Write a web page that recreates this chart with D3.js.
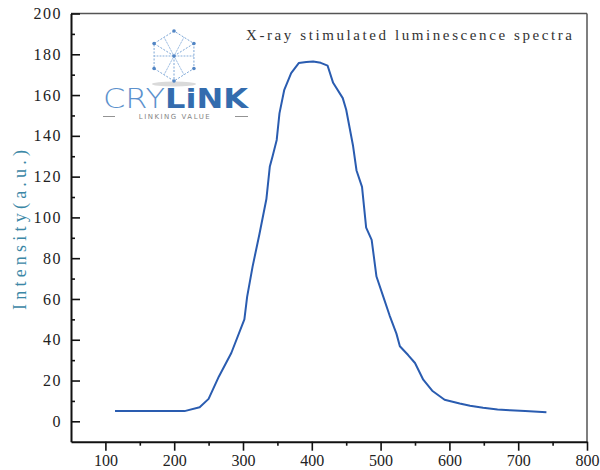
<!DOCTYPE html>
<html>
<head>
<meta charset="utf-8">
<script src="https://cdn.jsdelivr.net/npm/d3@7"></script>
<style>
  body { margin: 0; background: #fff; }
  svg { display: block; }
</style>
</head>
<body>
<div id="chart"></div>
<script>
// spectrum
const wavelength = [114, 150, 180, 215, 237, 250, 265, 283, 302, 306, 314, 324, 334, 339, 343, 349, 353, 360, 370, 381, 392, 402, 413, 423, 431, 445, 450, 460, 465, 473, 479, 487, 494, 504, 513, 523, 528, 540, 550, 562, 575, 593, 615, 630, 649, 670, 688, 710, 741];
const intensity  = [5,   5,   5,   5,   6.9, 11,  22,  33.5, 50, 61,  76,  92,  109, 125, 130, 138, 151, 162.6, 170.8, 175.7, 176.2, 176.5, 175.8, 174.4, 166, 158.5, 152.8, 135, 123, 115, 95,  89,  71,  61,  52,  43,  36.8, 32.5, 28.6, 20.4, 15, 10.6, 8.7, 7.6, 6.6, 5.8, 5.4, 5.0, 4.4];

const xTicks = [100, 200, 300, 400, 500, 600, 700, 800];
const xMinor = [150, 250, 350, 450, 550, 650, 750];
const yTicks = [0, 20, 40, 60, 80, 100, 120, 140, 160, 180, 200];
const yMinor = [10, 30, 50, 70, 90, 110, 130, 150, 170, 190];

const titleText = "X-ray stimulated luminescence spectra";
const yLabelText = "Intensity(a.u.)";

const W = 600, H = 470;
const box = {left: 71, right: 587, top: 13.5, bottom: 441.7};

const svg = d3.select("#chart").append("svg")
  .attr("width", W)
  .attr("height", H);

const x = d3.scaleLinear().domain([50, 800]).range([box.left, box.right]);
const y = d3.scaleLinear().domain([-10, 200]).range([box.bottom, box.top]);

const tickFont = "Liberation Serif, Times New Roman, serif";

// frame: top and right in grey
svg.append("line")
  .attr("x1", box.left).attr("x2", box.right)
  .attr("y1", box.top).attr("y2", box.top)
  .attr("stroke", "#555").attr("stroke-width", 1.5);
svg.append("line")
  .attr("x1", box.right).attr("x2", box.right)
  .attr("y1", box.top).attr("y2", box.bottom)
  .attr("stroke", "#555").attr("stroke-width", 1.5);

// bottom axis, ticks outward
const xAxis = svg.append("g")
  .attr("transform", "translate(0," + box.bottom + ")")
  .call(d3.axisBottom(x).tickValues(xTicks).tickSize(9).tickSizeOuter(0).tickPadding(4));
xAxis.select(".domain").attr("stroke", "#111").attr("stroke-width", 2);
xAxis.selectAll(".tick line").attr("stroke", "#111").attr("stroke-width", 1.6);
xAxis.selectAll("text")
  .attr("font-family", tickFont)
  .attr("font-size", 16)
  .attr("fill", "#222");

svg.append("g")
  .attr("transform", "translate(0," + box.bottom + ")")
  .call(d3.axisBottom(x).tickValues(xMinor).tickSize(4).tickFormat(""))
  .call(g => g.select(".domain").remove())
  .selectAll(".tick line").attr("stroke", "#111").attr("stroke-width", 1.6);

// left axis, ticks inward
const yAxis = svg.append("g")
  .attr("transform", "translate(" + box.left + ",0)")
  .call(d3.axisLeft(y).tickValues(yTicks).tickSize(-9).tickSizeOuter(0).tickPadding(9));
yAxis.select(".domain").attr("stroke", "#111").attr("stroke-width", 2);
yAxis.selectAll(".tick line").attr("stroke", "#111").attr("stroke-width", 1.6);
yAxis.selectAll("text")
  .attr("font-family", tickFont)
  .attr("font-size", 16)
  .attr("letter-spacing", 1.5)
  .attr("fill", "#222");

svg.append("g")
  .attr("transform", "translate(" + box.left + ",0)")
  .call(d3.axisLeft(y).tickValues(yMinor).tickSize(-4).tickFormat(""))
  .call(g => g.select(".domain").remove())
  .selectAll(".tick line").attr("stroke", "#111").attr("stroke-width", 1.6);

// y label
svg.append("text")
  .attr("transform", "translate(26,230) rotate(-90)")
  .attr("text-anchor", "middle")
  .attr("font-family", tickFont)
  .attr("font-size", 18)
  .attr("textLength", 160)
  .attr("lengthAdjust", "spacing")
  .attr("fill", "#3b87a6")
  .text(yLabelText);

// title
svg.append("text")
  .attr("x", 246)
  .attr("y", 40)
  .attr("font-family", tickFont)
  .attr("font-size", 15)
  .attr("textLength", 326)
  .attr("lengthAdjust", "spacing")
  .attr("fill", "#333")
  .text(titleText);

// watermark logo: cube
const logo = svg.append("g").attr("opacity", 0.9);
const cx = 174, cy = 56, r = 25;
const hex = d3.range(6).map(i => {
  const a = Math.PI / 2 + i * Math.PI / 3;
  return [cx + r * Math.cos(a) * 0.92, cy - r * Math.sin(a)];
});
logo.append("ellipse")
  .attr("cx", cx).attr("cy", cy + r + 3)
  .attr("rx", 22).attr("ry", 2.5)
  .attr("fill", "#bbb").attr("opacity", 0.6);
logo.append("polygon")
  .attr("points", hex.map(p => p.join(",")).join(" "))
  .attr("fill", "none").attr("stroke", "#6f9ed3")
  .attr("stroke-width", 1).attr("stroke-dasharray", "2,1.5");
[0, 2, 4].forEach(i => {
  logo.append("line")
    .attr("x1", cx).attr("y1", cy)
    .attr("x2", hex[(i + 3) % 6][0]).attr("y2", hex[(i + 3) % 6][1])
    .attr("stroke", "#6f9ed3").attr("stroke-width", 1).attr("stroke-dasharray", "2,1.5");
});
// inner grid lines (half-way)
[[0, 1, 3, 4], [2, 3, 5, 0], [4, 5, 1, 2], [1, 2, 4, 5], [3, 4, 0, 1], [5, 0, 2, 3]].forEach(q => {
  const m1 = [(hex[q[0]][0] + hex[q[1]][0]) / 2, (hex[q[0]][1] + hex[q[1]][1]) / 2];
  const m2 = [(hex[q[2]][0] + hex[q[3]][0]) / 2, (hex[q[2]][1] + hex[q[3]][1]) / 2];
  logo.append("line")
    .attr("x1", m1[0]).attr("y1", m1[1]).attr("x2", m2[0]).attr("y2", m2[1])
    .attr("stroke", "#8fb4de").attr("stroke-width", 0.8).attr("stroke-dasharray", "1.5,1.5");
});
logo.selectAll("circle.v")
  .data(hex.concat([[cx, cy]]))
  .enter().append("circle")
  .attr("cx", d => d[0]).attr("cy", d => d[1])
  .attr("r", 1.8).attr("fill", "#3f78be");

// watermark logo: wordmark
const word = logo.append("text")
  .attr("x", 103).attr("y", 108)
  .attr("font-family", "DejaVu Sans, sans-serif")
  .attr("font-size", 26)
  .attr("textLength", 145)
  .attr("lengthAdjust", "spacingAndGlyphs");
word.append("tspan").attr("font-weight", 200).attr("fill", "#4b86c8").text("CRY");
word.append("tspan").attr("font-weight", 700).attr("fill", "#1e5da6").text("LiNK");

logo.append("text")
  .attr("x", 175).attr("y", 119)
  .attr("text-anchor", "middle")
  .attr("font-family", "DejaVu Sans, sans-serif")
  .attr("font-size", 7)
  .attr("letter-spacing", 1.5)
  .attr("fill", "#777")
  .text("LINKING VALUE");
[[103, 115], [235, 248]].forEach(s => {
  logo.append("line")
    .attr("x1", s[0]).attr("x2", s[1]).attr("y1", 116.5).attr("y2", 116.5)
    .attr("stroke", "#888").attr("stroke-width", 1);
});

// spectrum line
const line = d3.line()
  .x((d, i) => x(wavelength[i]))
  .y(d => y(d));

svg.append("path")
  .datum(intensity)
  .attr("d", line)
  .attr("fill", "none")
  .attr("stroke", "#2a5cb0")
  .attr("stroke-width", 2)
  .attr("stroke-linejoin", "round");
</script>
</body>
</html>
